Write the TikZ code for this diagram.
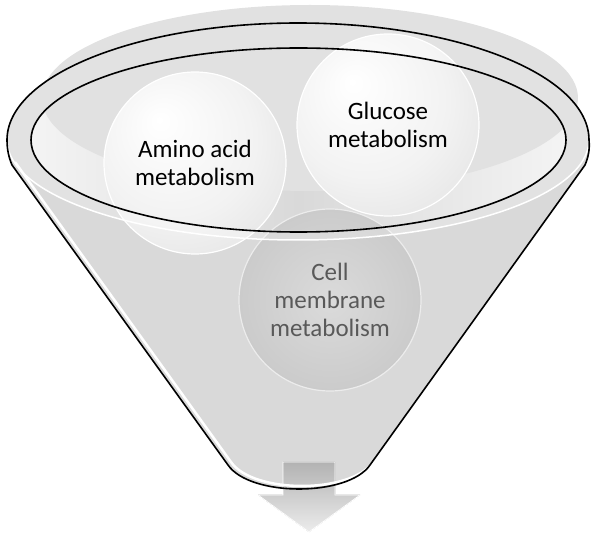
\documentclass[tikz,border=0pt]{standalone}
\usepackage{fontspec}
\setmainfont{Carlito}
\usepackage{xcolor}
\definecolor{funnelgray}{RGB}{217,217,217}
\definecolor{backgray}{RGB}{225,225,225}
\definecolor{openwhite}{RGB}{244,244,244}
\definecolor{cellgray}{RGB}{203,203,203}
\definecolor{labelgray}{RGB}{89,89,89}
\usepackage{tikz}
\pgfdeclareradialshading{bubbleshade}{\pgfpoint{-10bp}{12bp}}{color(0bp)=(white); color(22bp)=(white!95!black); color(42bp)=(white!87!black); color(50bp)=(white!82!black)}
\tikzset{
  bubble/.style={circle, minimum size=182pt, inner sep=0pt, shading=bubbleshade, draw=white, line width=1.2pt, align=center, font=\fontsize{25}{28}\selectfont},
  cellbubble/.style={inner color=cellgray!70!white, outer color=cellgray, draw=white!85!gray, text=labelgray},
  rimline/.style={black, line width=1.6pt}
}

\begin{document}
\begin{tikzpicture}[x=1pt, y=-1pt]
  \useasboundingbox (0,0) rectangle (598,540);

  % Back wall of the funnel
  \fill[backgray] (310,98) ellipse [x radius=268, y radius=93];

  % Funnel body
  \fill[funnelgray] (7,140) arc[start angle=180, end angle=360, x radius=291, y radius=117]
    .. controls (590,150) and (588,158) .. (585,165) -- (370,465)
    .. controls (348,497) and (250,497) .. (228,465) -- (12,165)
    .. controls (9,158) and (7,150) .. (7,140) -- cycle;

  % Opening
  \fill[left color=openwhite, right color=openwhite, middle color=funnelgray] (298.5,140) ellipse [x radius=267.5, y radius=92];
  \begin{scope}
    \clip (298.5,140) ellipse [x radius=267.5, y radius=92];
    \fill[backgray] (310,98) ellipse [x radius=268, y radius=93];
  \end{scope}

  % Circle inside the funnel
  \node[bubble, cellbubble] (cell) at (330,300) {Cell\\membrane\\metabolism};

  % Down arrow
  \fill[top color=gray!60, bottom color=gray!15, draw=white, line width=0.8pt]
    (283,462) -- (335,462) -- (335,495) -- (360,495) -- (309,532) -- (258,495) -- (283,495) -- cycle;

  % Circles in the opening
  \node[bubble] (amino) at (195,163) {Amino acid\\metabolism};
  \node[bubble] (glucose) at (388,125) {Glucose\\metabolism};

  % Rim
  \fill[white, opacity=0.25, even odd rule]
    (7,140) arc[start angle=180, end angle=360, x radius=291, y radius=117]
    arc[start angle=0, end angle=180, x radius=291, y radius=100]
    (298.5,140) ellipse [x radius=267.5, y radius=92];
  \draw[white, line width=1.5pt] (589,140) arc[start angle=0, end angle=180, x radius=291, y radius=100];
  \draw[rimline] (298.5,140) ellipse [x radius=267.5, y radius=92];

  % Outline
  \draw[white, line width=2.5pt, shift={(3,-3)}] (12,165) -- (228,465) .. controls (250,497) and (348,497) .. (370,465);
  \draw[rimline] (7,140) arc[start angle=180, end angle=360, x radius=291, y radius=117]
    .. controls (590,150) and (588,158) .. (585,165) -- (370,465)
    .. controls (348,497) and (250,497) .. (228,465) -- (12,165)
    .. controls (9,158) and (7,150) .. (7,140) -- cycle;
\end{tikzpicture}
\end{document}
